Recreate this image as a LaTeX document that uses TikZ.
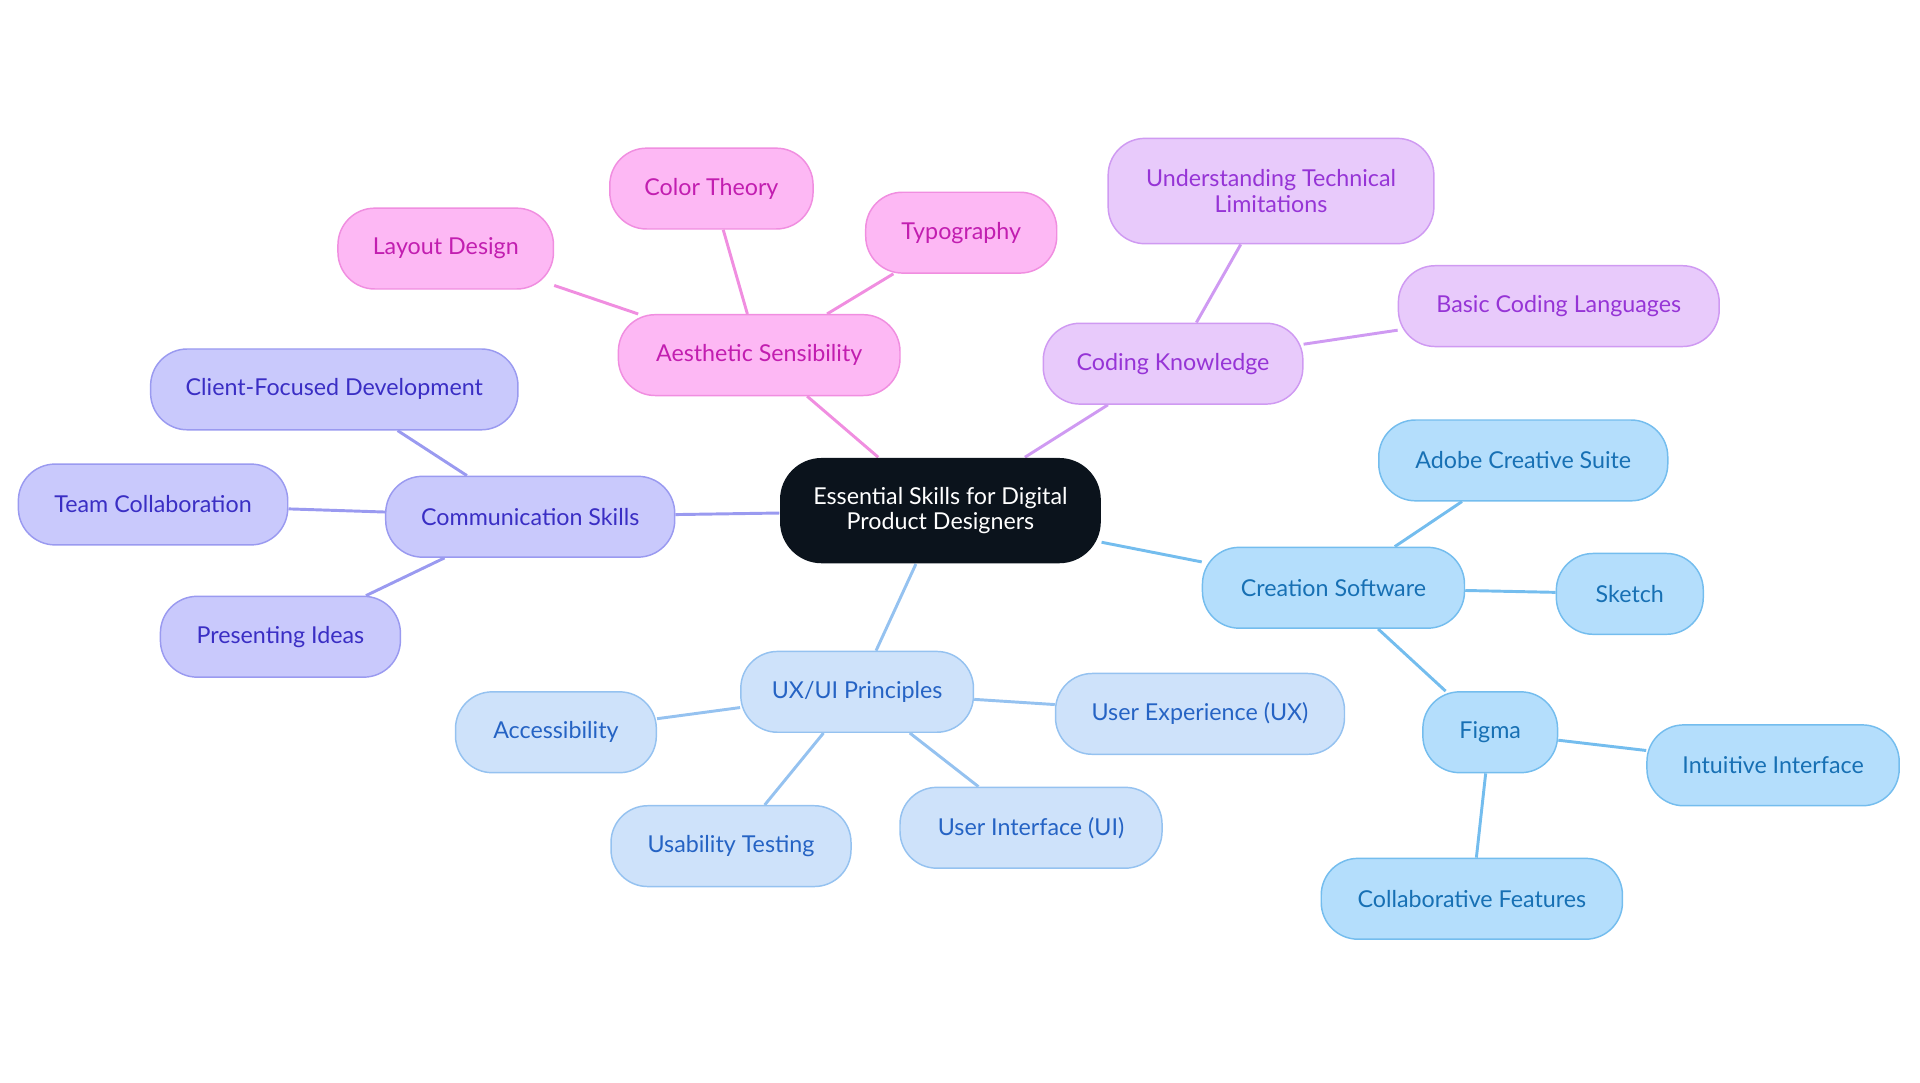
\documentclass[tikz,border=0pt]{standalone}
\usepackage{fontspec}
\setmainfont{Lato}
\usetikzlibrary{backgrounds}
\definecolor{pinkF}{HTML}{FDB8F4}\definecolor{pinkT}{HTML}{C21EB0}\definecolor{pinkL}{HTML}{F08EE0}
\definecolor{purF}{HTML}{E8CAFB}\definecolor{purT}{HTML}{9634D6}\definecolor{purL}{HTML}{CF9AF2}
\definecolor{bluF}{HTML}{B4DEFC}\definecolor{bluT}{HTML}{1770B4}\definecolor{bluL}{HTML}{74BDEE}
\definecolor{lbF}{HTML}{CEE2FA}\definecolor{lbT}{HTML}{2563C4}\definecolor{lbL}{HTML}{95C2F0}
\definecolor{indF}{HTML}{C9C9FC}\definecolor{indT}{HTML}{3A2EC4}\definecolor{indL}{HTML}{9A9AF0}
\definecolor{ctr}{HTML}{0B131C}
\tikzset{x={(0.5pt,0)},y={(0,-0.5pt)},
 box/.style={rounded corners=15pt,line width=0.6pt,minimum height=33pt,align=center,font=\fontsize{9.5}{10.5}\selectfont,inner sep=0pt},
 pk/.style={box,fill=pinkF,draw=pinkL,text=pinkT},
 pu/.style={box,fill=purF,draw=purL,text=purT},
 bl/.style={box,fill=bluF,draw=bluL,text=bluT},
 lb/.style={box,fill=lbF,draw=lbL,text=lbT},
 ind/.style={box,fill=indF,draw=indL,text=indT},
 e/.style={line width=1.2pt}}
\begin{document}
\begin{tikzpicture}
\useasboundingbox (0,0) rectangle (1568,884);
\node[box,fill=ctr,text=white,minimum width=131pt,minimum height=43pt,rounded corners=17pt] (c) at (768,417) {Essential Skills for Digital\\Product Designers};
\node[pk,minimum width=115pt] (a) at (620,290) {Aesthetic Sensibility};
\node[pk,minimum width=88pt] (a1) at (364,203) {Layout Design};
\node[pk,minimum width=83pt] (a2) at (581,154) {Color Theory};
\node[pk,minimum width=78pt] (a3) at (785,190) {Typography};
\node[pu,minimum width=106pt] (k) at (958,297) {Coding Knowledge};
\node[pu,minimum width=133pt,minimum height=43pt] (k1) at (1038,156) {Understanding Technical\\Limitations};
\node[pu,minimum width=131pt] (k2) at (1273,250) {Basic Coding Languages};
\node[ind,minimum width=118pt] (m) at (433,422) {Communication Skills};
\node[ind,minimum width=150pt] (m1) at (273,318) {Client-Focused Development};
\node[ind,minimum width=110pt] (m2) at (125,412) {Team Collaboration};
\node[ind,minimum width=98pt] (m3) at (229,520) {Presenting Ideas};
\node[lb,minimum width=95pt] (u) at (700,565) {UX/UI Principles};
\node[lb,minimum width=82pt] (u1) at (454,598) {Accessibility};
\node[lb,minimum width=98pt] (u2) at (597,691) {Usability Testing};
\node[lb,minimum width=107pt] (u3) at (842,676) {User Interface (UI)};
\node[lb,minimum width=118pt] (u4) at (980,583) {User Experience (UX)};
\node[bl,minimum width=107pt] (s) at (1089,480) {Creation Software};
\node[bl,minimum width=118pt] (s1) at (1244,376) {Adobe Creative Suite};
\node[bl,minimum width=60pt] (s2) at (1331,485) {Sketch};
\node[bl,minimum width=55pt] (f) at (1217,598) {Figma};
\node[bl,minimum width=103pt] (f1) at (1448,625) {Intuitive Interface};
\node[bl,minimum width=123pt] (f2) at (1202,734) {Collaborative Features};
\begin{scope}[on background layer]
\draw[e,pinkL] (c) -- (a) (a) -- (a1) (a) -- (a2) (a) -- (a3);
\draw[e,purL] (c) -- (k) (k) -- (k1) (k) -- (k2);
\draw[e,indL] (c) -- (m) (m) -- (m1) (m) -- (m2) (m) -- (m3);
\draw[e,lbL] (c) -- (u) (u) -- (u1) (u) -- (u2) (u) -- (u3) (u) -- (u4);
\draw[e,bluL] (c) -- (s) (s) -- (s1) (s) -- (s2) (s) -- (f) (f) -- (f1) (f) -- (f2);
\end{scope}
\end{tikzpicture}
\end{document}
